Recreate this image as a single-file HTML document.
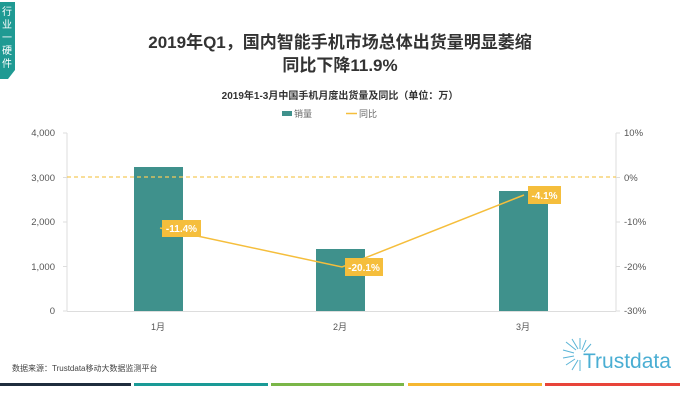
<!DOCTYPE html>
<html><head><meta charset="utf-8"><style>
body{margin:0;background:#fff;width:680px;height:401px;overflow:hidden}
svg text{font-family:"Liberation Sans","Noto Sans CJK SC",sans-serif}
</style></head><body>
<svg width="680" height="401" viewBox="0 0 680 401" xmlns="http://www.w3.org/2000/svg">
<path d="M0 2 H15 V70 L8 79 H0 Z" fill="#1f9a93"/>
<text x="2" y="15" font-size="10" fill="#fff">行</text>
<text x="2" y="28" font-size="10" fill="#fff">业</text>
<text x="2" y="41" font-size="10" fill="#fff">一</text>
<text x="2" y="54" font-size="10" fill="#fff">硬</text>
<text x="2" y="67" font-size="10" fill="#fff">件</text>
<text x="340" y="48" font-size="17" font-weight="bold" fill="#333" text-anchor="middle">2019年Q1，国内智能手机市场总体出货量明显萎缩</text>
<text x="340" y="71" font-size="17" font-weight="bold" fill="#333" text-anchor="middle">同比下降11.9%</text>
<text x="340" y="99" font-size="10" font-weight="bold" fill="#333" text-anchor="middle">2019年1-3月中国手机月度出货量及同比（单位：万）</text>
<rect x="282" y="111" width="10" height="5" fill="#3f918c"/>
<text x="294" y="117" font-size="9" fill="#666">销量</text>
<line x1="346" y1="113.5" x2="357" y2="113.5" stroke="#f5be3c" stroke-width="1.5"/>
<text x="359" y="117" font-size="9" fill="#666">同比</text>
<g stroke="#ddd" stroke-width="1">
<line x1="67" y1="133" x2="67" y2="311"/>
<line x1="616" y1="133" x2="616" y2="311"/>
<line x1="67" y1="311.5" x2="616" y2="311.5"/>
<line x1="63" y1="133" x2="67" y2="133"/><line x1="63" y1="177.5" x2="67" y2="177.5"/><line x1="63" y1="222" x2="67" y2="222"/><line x1="63" y1="266.5" x2="67" y2="266.5"/><line x1="63" y1="311" x2="67" y2="311"/>
<line x1="616" y1="133" x2="620" y2="133"/><line x1="616" y1="177.5" x2="620" y2="177.5"/><line x1="616" y1="222" x2="620" y2="222"/><line x1="616" y1="266.5" x2="620" y2="266.5"/><line x1="616" y1="311" x2="620" y2="311"/>
</g>
<g font-size="9.5" fill="#555" text-anchor="end">
<text x="55" y="136">4,000</text><text x="55" y="181">3,000</text><text x="55" y="225">2,000</text><text x="55" y="270">1,000</text><text x="55" y="314">0</text>
</g>
<g font-size="9.5" fill="#555">
<text x="624" y="136">10%</text><text x="624" y="181">0%</text><text x="624" y="225">-10%</text><text x="624" y="270">-20%</text><text x="624" y="314">-30%</text>
</g>
<rect x="134" y="167" width="49" height="144" fill="#3f918c"/>
<rect x="316" y="249" width="49" height="62" fill="#3f918c"/>
<rect x="499" y="191" width="49" height="120" fill="#3f918c"/>
<line x1="67" y1="177" x2="616" y2="177" stroke="#f5c95a" stroke-width="1.2" stroke-dasharray="4,3"/>
<polyline points="160,228 342,267 524,195" fill="none" stroke="#f5be3c" stroke-width="1.5"/>
<rect x="162" y="220" width="39" height="17" fill="#f5be3c"/>
<text x="181.5" y="232" font-size="10" font-weight="bold" fill="#fff" text-anchor="middle">-11.4%</text>
<rect x="345" y="258" width="38" height="18" fill="#f5be3c"/>
<text x="364" y="271" font-size="10" font-weight="bold" fill="#fff" text-anchor="middle">-20.1%</text>
<rect x="528" y="186" width="33" height="18" fill="#f5be3c"/>
<text x="544.5" y="199" font-size="10" font-weight="bold" fill="#fff" text-anchor="middle">-4.1%</text>
<g font-size="9" fill="#555" text-anchor="middle">
<text x="158" y="330">1月</text><text x="340" y="330">2月</text><text x="523" y="330">3月</text>
</g>
<text x="12" y="371" font-size="8" fill="#444">数据来源：Trustdata移动大数据监测平台</text>
<g stroke="#5ab4d6" stroke-width="1">
<line x1="576" y1="350" x2="566" y2="342"/><line x1="578" y1="349" x2="572" y2="339"/><line x1="580" y1="349" x2="580" y2="338"/><line x1="582" y1="350" x2="586" y2="340"/><line x1="584" y1="352" x2="591" y2="344"/><line x1="574" y1="353" x2="563" y2="350"/><line x1="574" y1="356" x2="563" y2="358"/><line x1="575" y1="359" x2="566" y2="365"/><line x1="578" y1="360" x2="572" y2="370"/><line x1="580" y1="360" x2="580" y2="371"/>
</g>
<text x="583" y="368" font-size="21" fill="#4aaed3">Trustdata</text>
<rect x="0" y="383" width="131" height="3" fill="#1f2d3d"/>
<rect x="134" y="383" width="134" height="3" fill="#1a9a96"/>
<rect x="271" y="383" width="133" height="3" fill="#7ab648"/>
<rect x="408" y="383" width="134" height="3" fill="#f5b731"/>
<rect x="545" y="383" width="135" height="3" fill="#e8443a"/>
</svg>
</body></html>
